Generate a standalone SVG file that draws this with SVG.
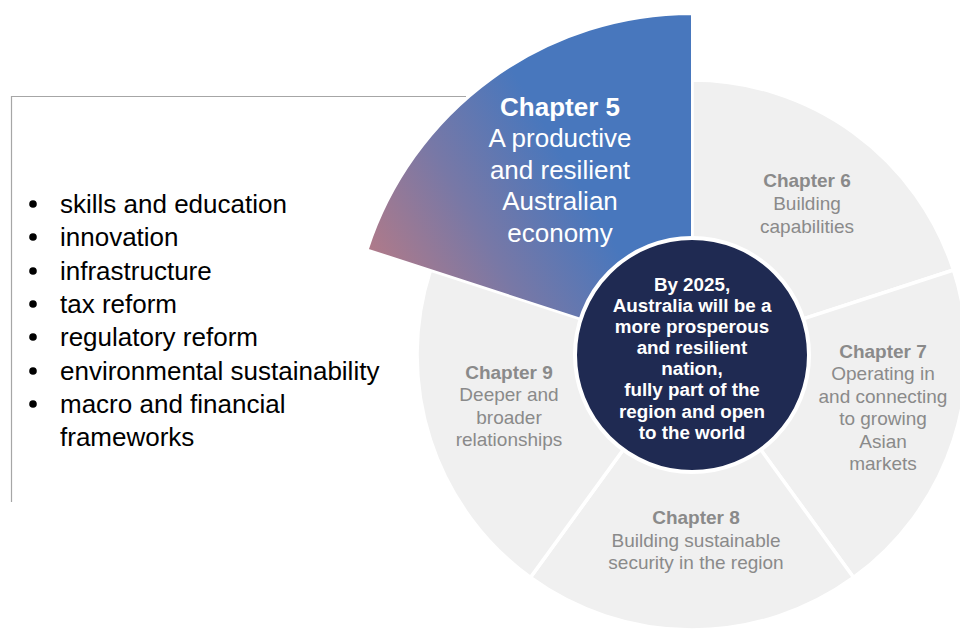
<svg xmlns="http://www.w3.org/2000/svg" width="960" height="630" viewBox="0 0 960 630">
<style>
.seg{fill:#F0F0F0;stroke:#FFFFFF;stroke-width:3.5;stroke-linejoin:miter}
.lbl{font-family:"Liberation Sans",Arial,sans-serif;font-size:19px;fill:#8A8A8A;text-anchor:middle}
.lbl .b{font-weight:bold}
.c5{font-family:"Liberation Sans",Arial,sans-serif;font-size:26px;fill:#FFFFFF;text-anchor:middle}
.ctr{font-family:"Liberation Sans",Arial,sans-serif;font-size:18.8px;font-weight:bold;fill:#FFFFFF;text-anchor:middle}
.bul{font-family:"Liberation Sans",Arial,sans-serif;font-size:26px;fill:#000000}
</style>
<defs>
<linearGradient id="g5" gradientUnits="userSpaceOnUse" x1="370" y1="262" x2="560" y2="150">
<stop offset="0" stop-color="#B27A88"/>
<stop offset="0.5" stop-color="#7878A6"/>
<stop offset="1" stop-color="#4877BD"/>
</linearGradient>
</defs>
<rect width="960" height="630" fill="#FFFFFF"/>
<g id="frame">
<path d="M11.5,502 L11.5,96.5 L466,96.5" fill="none" stroke="#A6A6A6" stroke-width="1.2"/>
</g>
<g id="bullets" class="bul">
<circle cx="33" cy="204" r="3.8" fill="#000"/><text x="60" y="213">skills and education</text>
<circle cx="33" cy="237" r="3.8" fill="#000"/><text x="60" y="246">innovation</text>
<circle cx="33" cy="271" r="3.8" fill="#000"/><text x="60" y="280">infrastructure</text>
<circle cx="33" cy="304" r="3.8" fill="#000"/><text x="60" y="313">tax reform</text>
<circle cx="33" cy="337" r="3.8" fill="#000"/><text x="60" y="346">regulatory reform</text>
<circle cx="33" cy="371" r="3.8" fill="#000"/><text x="60" y="380">environmental sustainability</text>
<circle cx="33" cy="404" r="3.8" fill="#000"/><text x="60" y="413">macro and financial</text>
<text x="60" y="446">frameworks</text>
</g>
<g id="ch6">
<path class="seg" d="M692,355 L692,80 A275,275 0 0 1 953.5,270 Z"/>
<text class="lbl"><tspan class="b" x="807" y="187">Chapter 6</tspan><tspan x="807" y="210">Building</tspan><tspan x="807" y="233">capabilities</tspan></text>
</g>
<g id="ch7">
<path class="seg" d="M692,355 L953.5,270 A275,275 0 0 1 853.6,577.5 Z"/>
<text class="lbl"><tspan class="b" x="883" y="358">Chapter 7</tspan><tspan x="883" y="380">Operating in</tspan><tspan x="883" y="403">and connecting</tspan><tspan x="883" y="425">to growing</tspan><tspan x="883" y="448">Asian</tspan><tspan x="883" y="470">markets</tspan></text>
</g>
<g id="ch8">
<path class="seg" d="M692,355 L853.6,577.5 A275,275 0 0 1 530.4,577.5 Z"/>
<text class="lbl"><tspan class="b" x="696" y="524">Chapter 8</tspan><tspan x="696" y="547">Building sustainable</tspan><tspan x="696" y="569">security in the region</tspan></text>
</g>
<g id="ch9">
<path class="seg" d="M692,355 L530.4,577.5 A275,275 0 0 1 430.5,270 Z"/>
<text class="lbl"><tspan class="b" x="509" y="379">Chapter 9</tspan><tspan x="509" y="401">Deeper and</tspan><tspan x="509" y="424">broader</tspan><tspan x="509" y="446">relationships</tspan></text>
</g>
<g id="ch5">
<path d="M692,355 L367.7,249.6 A341,341 0 0 1 692,14 Z" fill="url(#g5)" stroke="#FFFFFF" stroke-width="2"/>
<text class="c5"><tspan x="560" y="116" font-weight="bold">Chapter 5</tspan><tspan x="560" y="147">A productive</tspan><tspan x="560" y="179">and resilient</tspan><tspan x="560" y="210">Australian</tspan><tspan x="560" y="242">economy</tspan></text>
</g>
<g id="center">
<circle cx="692" cy="355" r="117" fill="#1F2A52" stroke="#FFFFFF" stroke-width="4"/>
<text class="ctr"><tspan x="692" y="291">By 2025,</tspan><tspan x="692" y="312">Australia will be a</tspan><tspan x="692" y="333">more prosperous</tspan><tspan x="692" y="354">and resilient</tspan><tspan x="692" y="375">nation,</tspan><tspan x="692" y="396">fully part of the</tspan><tspan x="692" y="418">region and open</tspan><tspan x="692" y="439">to the world</tspan></text>
</g>
<g id="connectors"/>
</svg>
